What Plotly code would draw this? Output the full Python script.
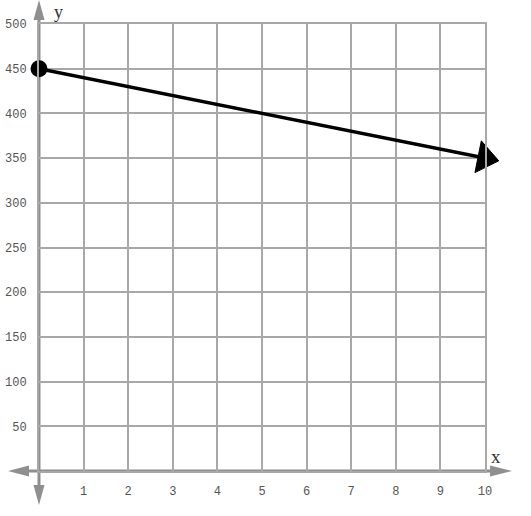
import plotly.graph_objects as go

# data
line_x = [0, 10]
line_y = [450, 350]
x_ticks = [1, 2, 3, 4, 5, 6, 7, 8, 9, 10]
y_ticks = [50, 100, 150, 200, 250, 300, 350, 400, 450, 500]

W, H = 531, 516
L, R, T, B = 39, 46, 24, 45
PW, PH = W - L - R, H - T - B

def px(x):
    return (x - L) / PW

def py(y):
    return (H - B - y) / PH

AX = "#8f8f8f"
GRID = "#a8a8a8"

fig = go.Figure()
fig.add_trace(go.Scatter(
    x=line_x, y=line_y, mode="lines",
    line=dict(color="black", width=3.5),
    cliponaxis=False, hoverinfo="skip", showlegend=False))
fig.add_trace(go.Scatter(
    x=line_x, y=line_y, mode="markers",
    marker=dict(symbol="triangle-up", size=[0, 28], opacity=1,
                color="black", angleref="previous", line=dict(width=1, color="black")),
    cliponaxis=False, hoverinfo="skip", showlegend=False))
fig.add_trace(go.Scatter(
    x=line_x[:1], y=line_y[:1], mode="markers",
    marker=dict(symbol="circle", size=17, color="black", line=dict(width=0)),
    cliponaxis=False, hoverinfo="skip", showlegend=False))

shapes = []
# x axis line + arrows
shapes.append(dict(type="line", xref="paper", yref="paper", x0=px(22), x1=px(495),
                   y0=py(471), y1=py(471), line=dict(color=AX, width=3), layer="below"))
shapes.append(dict(type="path", xref="paper", yref="paper", layer="below",
                   path=f"M{px(8)},{py(471)} L{px(29)},{py(465.5)} L{px(29)},{py(476.5)} Z",
                   fillcolor=AX, line=dict(width=0)))
shapes.append(dict(type="path", xref="paper", yref="paper", layer="below",
                   path=f"M{px(512)},{py(471)} L{px(490)},{py(465.5)} L{px(490)},{py(476.5)} Z",
                   fillcolor=AX, line=dict(width=0)))
# y axis line + arrows
shapes.append(dict(type="line", xref="paper", yref="paper", x0=px(39), x1=px(39),
                   y0=py(14), y1=py(490), line=dict(color=AX, width=3), layer="below"))
shapes.append(dict(type="path", xref="paper", yref="paper", layer="below",
                   path=f"M{px(39)},{py(0)} L{px(33.5)},{py(20)} L{px(44.5)},{py(20)} Z",
                   fillcolor=AX, line=dict(width=0)))
shapes.append(dict(type="path", xref="paper", yref="paper", layer="below",
                   path=f"M{px(39)},{py(505)} L{px(33.5)},{py(485)} L{px(44.5)},{py(485)} Z",
                   fillcolor=AX, line=dict(width=0)))

tickfont = dict(family="Liberation Mono", size=12, color="#555555")
fig.update_layout(
    width=W, height=H,
    margin=dict(l=L, r=R, t=T, b=B, pad=0, autoexpand=False),
    paper_bgcolor="white", plot_bgcolor="white",
    shapes=shapes,
    xaxis=dict(range=[0, 10], tickvals=x_ticks, ticktext=[str(v) for v in x_ticks],
               showgrid=True, gridcolor=GRID, gridwidth=2, zeroline=False,
               showline=True, mirror=True, linecolor=GRID, linewidth=2,
               ticks="", tickfont=tickfont, ticklabelstandoff=8, fixedrange=True,
               automargin=False),
    yaxis=dict(range=[0, 500], tickvals=y_ticks, ticktext=[str(v) for v in y_ticks],
               showgrid=True, gridcolor=GRID, gridwidth=2, zeroline=False,
               showline=True, mirror=True, linecolor=GRID, linewidth=2,
               ticks="", tickfont=tickfont, ticklabelstandoff=8, fixedrange=True,
               automargin=False),
    annotations=[
        dict(text="y", xref="paper", yref="paper", x=px(58), y=py(12), showarrow=False,
             xanchor="center", yanchor="middle",
             font=dict(family="Liberation Serif", size=18, color="#333333")),
        dict(text="x", xref="paper", yref="paper", x=px(496), y=py(456), showarrow=False,
             xanchor="center", yanchor="middle",
             font=dict(family="Liberation Serif", size=19, color="#333333")),
    ],
)

fig.write_html("out.html", config={"displayModeBar": False},
               post_script="document.body.style.margin='0';document.body.style.overflow='hidden';")
